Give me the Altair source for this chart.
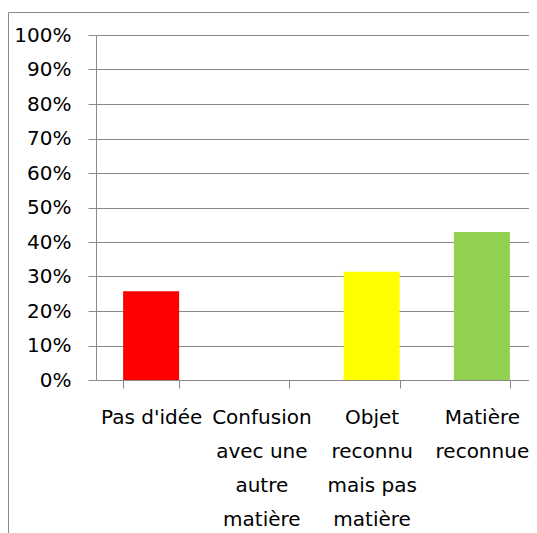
import altair as alt
import pandas as pd

categories = [
    "Pas d'idée",
    "Confusion\navec une\nautre\nmatière",
    "Objet\nreconnu\nmais pas\nmatière",
    "Matière\nreconnue",
]
values = [0.257, 0.0, 0.314, 0.429]
colors = ["#FF0000", "#808080", "#FFFF00", "#92D050"]
y_ticks = [0.0, 0.1, 0.2, 0.3, 0.4, 0.5, 0.6, 0.7, 0.8, 0.9, 1.0]

df = pd.DataFrame({"cat": categories, "val": values})

GRID = "#8a8a8a"
FONT = "DejaVu Sans"

bars = alt.Chart(df).mark_bar().encode(
    x=alt.X(
        "cat:N",
        sort=None,
        title=None,
        scale=alt.Scale(paddingInner=0.492, paddingOuter=0.246, range=[0, 441]),
        axis=alt.Axis(
            labelAngle=0,
            labelExpr="split(datum.label, '\\n')",
            labelLineHeight=34,
            labelFontSize=20,
            labelFont=FONT,
            labelColor="#000000",
            labelPadding=19,
            labelOverlap=False,
            labelLimit=0,
            domain=False,
            ticks=True,
            tickBand="extent",
            tickSize=8,
            tickColor=GRID,
            tickWidth=1,
            grid=False,
        ),
    ),
    y=alt.Y(
        "val:Q",
        title=None,
        scale=alt.Scale(domain=[0, 1], nice=False),
        axis=alt.Axis(
            values=y_ticks,
            format=".0%",
            labelFontSize=20,
            labelFont=FONT,
            labelColor="#000000",
            labelPadding=17,
            tickSize=8,
            tickColor=GRID,
            tickWidth=1,
            grid=True,
            gridColor=GRID,
            gridWidth=1,
            domain=True,
            domainColor=GRID,
            domainWidth=1,
        ),
    ),
    color=alt.Color(
        "cat:N",
        sort=None,
        scale=alt.Scale(domain=categories, range=colors),
        legend=None,
    ),
)

frame = alt.Chart(pd.DataFrame({"f": [0]})).mark_rect(
    fillOpacity=0, stroke=GRID, strokeWidth=1
).encode(
    x=alt.value(-87.5),
    y=alt.value(-22.5),
    x2=alt.value(800),
    y2=alt.value(800),
)

chart = alt.layer(frame, bars).properties(
    width=433,
    height=345,
    autosize=alt.AutoSizeParams(type="none"),
    padding={"left": 88, "top": 27, "right": 0, "bottom": 153},
).configure_view(stroke=None)

chart.save("out.html", embed_options={"renderer": "svg", "actions": False})
